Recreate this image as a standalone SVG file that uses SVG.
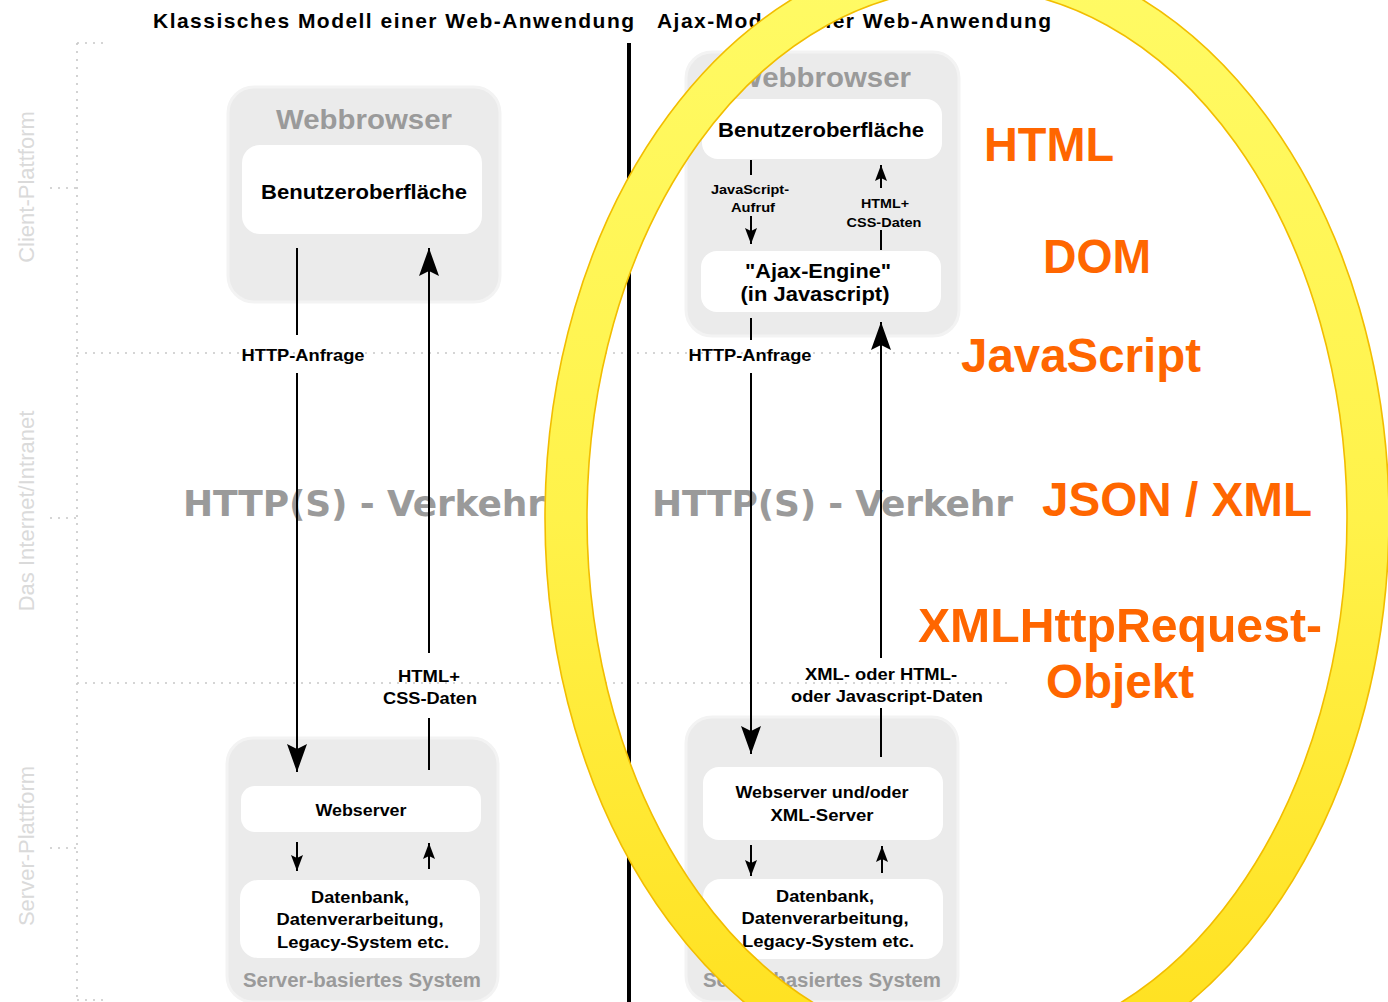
<svg xmlns="http://www.w3.org/2000/svg" width="1388" height="1002" viewBox="0 0 1388 1002">
<style>
.bg{fill:#ffffff}
.grp{fill:#ebebeb;stroke:#f3f3f3;stroke-width:3}
.wb{fill:#ffffff}
.lbl{font-family:"Liberation Sans",Arial,sans-serif;font-weight:bold;fill:#000;text-anchor:middle}
.gry{font-family:"Liberation Sans",Arial,sans-serif;font-weight:bold;fill:#9a9a9a;text-anchor:middle}
.side{font-family:"Liberation Sans",Arial,sans-serif;fill:#dadada;font-size:22px;text-anchor:middle}
.http{font-family:"DejaVu Sans",sans-serif;font-weight:bold;fill:#9a9a9a;font-size:36px}
.title{font-family:"Liberation Sans",Arial,sans-serif;font-weight:bold;fill:#000;font-size:21px}
.org{font-family:"Liberation Sans",Arial,sans-serif;font-weight:bold;fill:#ff6600;font-size:48px}
.dot{stroke:#c8c8c8;stroke-width:1.6;stroke-dasharray:2 6;fill:none}
.ln{stroke:#000;stroke-width:2;fill:none}
</style>
<defs>
<marker id="big" viewBox="0 0 28 20" refX="28" refY="10" markerWidth="28" markerHeight="20" orient="auto" markerUnits="userSpaceOnUse"><path d="M0,0 L28,10 L0,20 L5,10 z" fill="#000"/></marker>
<marker id="sm" viewBox="0 0 16 12" refX="16" refY="6" markerWidth="16" markerHeight="12" orient="auto" markerUnits="userSpaceOnUse"><path d="M0,0 L16,6 L0,12 L3,6 z" fill="#000"/></marker>
<linearGradient id="ringg" x1="0" y1="0" x2="0" y2="1">
<stop offset="0" stop-color="#fffb66"/>
<stop offset="0.5" stop-color="#fff24a"/>
<stop offset="1" stop-color="#ffdf1c"/>
</linearGradient>
</defs>
<rect class="bg" x="0" y="0" width="1388" height="1002"/>

<g id="guides">
<line class="dot" x1="77" y1="43" x2="77" y2="1000"/>
<line class="dot" x1="77" y1="43" x2="104" y2="43"/>
<line class="dot" x1="77" y1="1000" x2="104" y2="1000"/>
<line class="dot" x1="50" y1="188" x2="77" y2="188"/>
<line class="dot" x1="50" y1="518" x2="77" y2="518"/>
<line class="dot" x1="50" y1="848" x2="77" y2="848"/>
<line class="dot" x1="77" y1="353" x2="960" y2="353"/>
<line class="dot" x1="77" y1="683" x2="1012" y2="683"/>
<text class="side" transform="translate(34,187) rotate(-90)">Client-Plattform</text>
<text class="side" transform="translate(34,511) rotate(-90)">Das Internet/Intranet</text>
<text class="side" transform="translate(34,846) rotate(-90)">Server-Plattform</text>
</g>

<g id="titles">
<text class="title" x="153" y="28" textLength="481" lengthAdjust="spacing">Klassisches Modell einer Web-Anwendung</text>
<text class="title" x="657" y="28" textLength="394" lengthAdjust="spacing">Ajax-Modell einer Web-Anwendung</text>
<line x1="629" y1="43" x2="629" y2="1002" stroke="#000" stroke-width="4"/>
</g>

<g id="traffic">
<text class="http" x="183" y="516" textLength="362" lengthAdjust="spacing">HTTP(S) - Verkehr</text>
<text class="http" x="652" y="516" textLength="361" lengthAdjust="spacing">HTTP(S) - Verkehr</text>
</g>

<g id="classic-browser">
<rect class="grp" x="228" y="87" width="272" height="215" rx="26"/>
<text class="gry" x="364" y="129" font-size="28" textLength="176" lengthAdjust="spacingAndGlyphs">Webbrowser</text>
</g>
<g id="classic-ui">
<rect class="wb" x="242" y="145" width="240" height="89" rx="18"/>
<text class="lbl" x="364" y="199" font-size="21" textLength="206" lengthAdjust="spacingAndGlyphs">Benutzeroberfläche</text>
</g>
<g id="classic-server">
<rect class="grp" x="227" y="738" width="271" height="264" rx="26"/>
<text class="gry" x="362" y="987" font-size="20" textLength="238" lengthAdjust="spacingAndGlyphs">Server-basiertes System</text>
</g>
<g id="classic-webserver">
<rect class="wb" x="241" y="786" width="240" height="46" rx="14"/>
<text class="lbl" x="361" y="816" font-size="17" textLength="91" lengthAdjust="spacingAndGlyphs">Webserver</text>
</g>
<g id="classic-db">
<rect class="wb" x="240" y="880" width="240" height="78" rx="18"/>
<text class="lbl" x="360" y="903" font-size="17" textLength="98" lengthAdjust="spacingAndGlyphs">Datenbank,</text>
<text class="lbl" x="360" y="925" font-size="17" textLength="167" lengthAdjust="spacingAndGlyphs">Datenverarbeitung,</text>
<text class="lbl" x="363" y="948" font-size="17" textLength="172" lengthAdjust="spacingAndGlyphs">Legacy-System etc.</text>
</g>

<g id="ajax-browser">
<rect class="grp" x="686" y="52" width="273" height="284" rx="26"/>
<text class="gry" x="823" y="87" font-size="28" textLength="176" lengthAdjust="spacingAndGlyphs">Webbrowser</text>
</g>
<g id="ajax-ui">
<rect class="wb" x="702" y="99" width="240" height="60" rx="16"/>
<text class="lbl" x="821" y="137" font-size="21" textLength="206" lengthAdjust="spacingAndGlyphs">Benutzeroberfläche</text>
</g>
<g id="ajax-engine">
<rect class="wb" x="701" y="251" width="240" height="61" rx="16"/>
<text class="lbl" x="818" y="278" font-size="20" textLength="146" lengthAdjust="spacingAndGlyphs">"Ajax-Engine"</text>
<text class="lbl" x="815" y="301" font-size="20" textLength="149" lengthAdjust="spacingAndGlyphs">(in Javascript)</text>
</g>
<g id="ajax-server">
<rect class="grp" x="686" y="717" width="272" height="285" rx="26"/>
<text class="gry" x="822" y="987" font-size="20" textLength="238" lengthAdjust="spacingAndGlyphs">Server-basiertes System</text>
</g>
<g id="ajax-webserver">
<rect class="wb" x="703" y="767" width="240" height="73" rx="16"/>
<text class="lbl" x="822" y="798" font-size="17" textLength="173" lengthAdjust="spacingAndGlyphs">Webserver und/oder</text>
<text class="lbl" x="822" y="821" font-size="17" textLength="103" lengthAdjust="spacingAndGlyphs">XML-Server</text>
</g>
<g id="ajax-db">
<rect class="wb" x="703" y="879" width="240" height="80" rx="18"/>
<text class="lbl" x="825" y="902" font-size="17" textLength="98" lengthAdjust="spacingAndGlyphs">Datenbank,</text>
<text class="lbl" x="825" y="924" font-size="17" textLength="167" lengthAdjust="spacingAndGlyphs">Datenverarbeitung,</text>
<text class="lbl" x="828" y="947" font-size="17" textLength="172" lengthAdjust="spacingAndGlyphs">Legacy-System etc.</text>
</g>

<g id="connectors">
<line class="ln" x1="297" y1="248" x2="297" y2="335"/>
<line class="ln" x1="297" y1="373" x2="297" y2="772" marker-end="url(#big)"/>
<line class="ln" x1="429" y1="770" x2="429" y2="718"/>
<line class="ln" x1="429" y1="653" x2="429" y2="248" marker-end="url(#big)"/>
<line class="ln" x1="297" y1="842" x2="297" y2="871" marker-end="url(#sm)"/>
<line class="ln" x1="429" y1="869" x2="429" y2="843" marker-end="url(#sm)"/>
<line class="ln" x1="751" y1="160" x2="751" y2="175"/>
<line class="ln" x1="751" y1="216" x2="751" y2="244" marker-end="url(#sm)"/>
<line class="ln" x1="881" y1="188" x2="881" y2="165" marker-end="url(#sm)"/>
<line class="ln" x1="881" y1="250" x2="881" y2="230"/>
<line class="ln" x1="751" y1="318" x2="751" y2="340"/>
<line class="ln" x1="751" y1="373" x2="751" y2="754" marker-end="url(#big)"/>
<line class="ln" x1="881" y1="658" x2="881" y2="322" marker-end="url(#big)"/>
<line class="ln" x1="881" y1="757" x2="881" y2="708"/>
<line class="ln" x1="751" y1="845" x2="751" y2="876" marker-end="url(#sm)"/>
<line class="ln" x1="882" y1="873" x2="882" y2="846" marker-end="url(#sm)"/>
<text class="lbl" x="303" y="361" font-size="17" textLength="123" lengthAdjust="spacingAndGlyphs">HTTP-Anfrage</text>
<text class="lbl" x="429" y="682" font-size="17" textLength="62" lengthAdjust="spacingAndGlyphs">HTML+</text>
<text class="lbl" x="430" y="704" font-size="17" textLength="94" lengthAdjust="spacingAndGlyphs">CSS-Daten</text>
<text class="lbl" x="750" y="194" font-size="13" textLength="78" lengthAdjust="spacingAndGlyphs">JavaScript-</text>
<text class="lbl" x="753" y="212" font-size="13" textLength="44" lengthAdjust="spacingAndGlyphs">Aufruf</text>
<text class="lbl" x="885" y="208" font-size="13" textLength="48" lengthAdjust="spacingAndGlyphs">HTML+</text>
<text class="lbl" x="884" y="227" font-size="13" textLength="75" lengthAdjust="spacingAndGlyphs">CSS-Daten</text>
<text class="lbl" x="750" y="361" font-size="17" textLength="123" lengthAdjust="spacingAndGlyphs">HTTP-Anfrage</text>
<text class="lbl" x="881" y="680" font-size="17" textLength="152" lengthAdjust="spacingAndGlyphs">XML- oder HTML-</text>
<text class="lbl" x="887" y="702" font-size="17" textLength="192" lengthAdjust="spacingAndGlyphs">oder Javascript-Daten</text>
</g>

<g id="tech">
<text class="org" x="984" y="161" textLength="130" lengthAdjust="spacingAndGlyphs">HTML</text>
<text class="org" x="1043" y="273" textLength="108" lengthAdjust="spacingAndGlyphs">DOM</text>
<text class="org" x="961" y="372" textLength="240" lengthAdjust="spacingAndGlyphs">JavaScript</text>
<text class="org" x="1042" y="516" textLength="270" lengthAdjust="spacingAndGlyphs">JSON / XML</text>
<text class="org" x="918" y="642" textLength="404" lengthAdjust="spacingAndGlyphs">XMLHttpRequest-</text>
<text class="org" x="1046" y="698" textLength="148" lengthAdjust="spacingAndGlyphs">Objekt</text>
</g>

<g id="ring">
<path d="M545,518 A422,570 0 1,0 1389,518 A422,570 0 1,0 545,518 Z M587,518 A380,530 0 1,1 1347,518 A380,530 0 1,1 587,518 Z" fill="url(#ringg)" fill-rule="evenodd" stroke="#f2bd00" stroke-width="1.6"/>
</g>
</svg>
